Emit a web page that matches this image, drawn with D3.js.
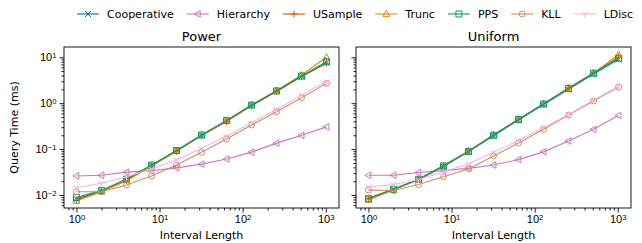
<!DOCTYPE html>
<html>
<head>
<meta charset="utf-8">
<script src="https://cdn.jsdelivr.net/npm/d3@7"></script>
<style>
  body { margin: 0; background: #fff; }
  svg { font-family: "DejaVu Sans", sans-serif; }
</style>
</head>
<body>
<div id="chart"></div>
<script>
// interval lengths (x), shared by both panels
var intervals = [1, 2, 4, 8, 16, 32, 64, 128, 256, 512, 1024];

var methods = ['Cooperative', 'Hierarchy', 'USample', 'Trunc', 'PPS', 'KLL', 'LDisc'];
var colors = ['#0173b2', '#cc78bc', '#d55e00', '#de8f05', '#029e73', '#ca9161', '#fbafe4'];
var markers = ['x', 'left', 'plus', 'up', 'square', 'circle', 'tridown'];

// Power workload, query time (ms)
var powerCooperative = [0.0082, 0.0122, 0.021, 0.044, 0.092, 0.2, 0.41, 0.9, 1.82, 3.8, 7.6];
var powerHierarchy   = [0.026, 0.027, 0.0315, 0.034, 0.039, 0.047, 0.061, 0.086, 0.135, 0.2, 0.305];
var powerUSample     = [0.0078, 0.012, 0.0205, 0.043, 0.09, 0.195, 0.4, 0.88, 1.8, 3.8, 7.4];
var powerTrunc       = [0.0074, 0.0118, 0.021, 0.044, 0.092, 0.2, 0.41, 0.92, 1.9, 4.1, 10.0];
var powerPPS         = [0.0088, 0.0126, 0.0223, 0.045, 0.093, 0.203, 0.42, 0.91, 1.85, 3.9, 8.0];
var powerKLL         = [0.0118, 0.0118, 0.0165, 0.026, 0.045, 0.085, 0.166, 0.335, 0.65, 1.32, 2.7];
var powerLDisc       = [0.0144, 0.018, 0.025, 0.037, 0.058, 0.104, 0.19, 0.375, 0.74, 1.5, 3.0];

// Uniform workload, query time (ms)
var uniformCooperative = [0.0085, 0.013, 0.0215, 0.042, 0.088, 0.195, 0.43, 0.94, 2.0, 4.3, 9.0];
var uniformHierarchy   = [0.027, 0.027, 0.031, 0.034, 0.038, 0.045, 0.059, 0.087, 0.15, 0.27, 0.54];
var uniformUSample     = [0.0085, 0.0135, 0.022, 0.044, 0.091, 0.205, 0.45, 0.98, 2.15, 4.6, 10.2];
var uniformTrunc       = [0.0078, 0.0128, 0.022, 0.043, 0.09, 0.2, 0.44, 0.97, 2.1, 4.5, 11.5];
var uniformPPS         = [0.0083, 0.0133, 0.022, 0.043, 0.089, 0.2, 0.44, 0.96, 2.1, 4.5, 9.5];
var uniformKLL         = [0.0128, 0.0125, 0.017, 0.025, 0.037, 0.071, 0.136, 0.27, 0.55, 1.12, 2.25];
var uniformLDisc       = [0.015, 0.017, 0.0215, 0.032, 0.048, 0.085, 0.155, 0.29, 0.57, 1.17, 2.3];

var xMajorTicks = [1, 10, 100, 1000];
var yMajorTicks = [0.01, 0.1, 1, 10];

var panels = [
  { title: 'Power', left: 64, showY: true,
    series: [powerCooperative, powerHierarchy, powerUSample, powerTrunc, powerPPS, powerKLL, powerLDisc] },
  { title: 'Uniform', left: 356, showY: false,
    series: [uniformCooperative, uniformHierarchy, uniformUSample, uniformTrunc, uniformPPS, uniformKLL, uniformLDisc] }
];

var width = 642, height = 243;
var panelWidth = 275, plotTop = 47, plotBottom = 208;

var svg = d3.select('#chart').append('svg')
    .attr('width', width)
    .attr('height', height);

var y = d3.scaleLog()
    .domain([Math.pow(10, -2.283), Math.pow(10, 1.224)])
    .range([plotBottom, plotTop]);

// minor ticks for log axes
function minorTicks(lo, hi) {
  var out = [];
  for (var e = lo; e <= hi; e++) {
    for (var m = 2; m <= 9; m++) out.push(m * Math.pow(10, e));
  }
  return out;
}

function markerPath(type, r) {
  var p = d3.path();
  if (type === 'circle') {
    p.moveTo(r, 0);
    p.arc(0, 0, r, 0, 2 * Math.PI);
  } else if (type === 'square') {
    p.rect(-r, -r, 2 * r, 2 * r);
  } else if (type === 'x') {
    p.moveTo(-r, -r); p.lineTo(r, r);
    p.moveTo(-r, r); p.lineTo(r, -r);
  } else if (type === 'plus') {
    p.moveTo(-r * 1.2, 0); p.lineTo(r * 1.2, 0);
    p.moveTo(0, -r * 1.2); p.lineTo(0, r * 1.2);
  } else if (type === 'up') {
    p.moveTo(0, -r * 1.2); p.lineTo(r * 1.1, r * 0.8); p.lineTo(-r * 1.1, r * 0.8); p.closePath();
  } else if (type === 'left') {
    p.moveTo(-r * 1.2, 0); p.lineTo(r * 0.8, -r * 1.1); p.lineTo(r * 0.8, r * 1.1); p.closePath();
  } else if (type === 'tridown') {
    p.moveTo(0, 0); p.lineTo(0, r * 1.2);
    p.moveTo(0, 0); p.lineTo(-r * 1.05, -r * 0.6);
    p.moveTo(0, 0); p.lineTo(r * 1.05, -r * 0.6);
  }
  return p.toString();
}

// superscript labels like 10^-2
function powLabel(sel, v) {
  var e = Math.round(Math.log10(v));
  sel.text(null);
  sel.append('tspan').text('10');
  sel.append('tspan').attr('dy', '-0.45em').style('font-size', '7.7px').text(e < 0 ? '\u2212' + (-e) : e);
}

panels.forEach(function (panel) {
  var x = d3.scaleLog()
      .domain([Math.pow(10, -0.15), Math.pow(10, 3.16)])
      .range([panel.left, panel.left + panelWidth]);

  var g = svg.append('g');

  // x axis major + minor
  var xAxis = g.append('g')
      .attr('transform', 'translate(0,' + plotBottom + ')')
      .call(d3.axisBottom(x).tickValues(xMajorTicks).tickSize(4.5).tickPadding(3));
  xAxis.select('.domain').remove();
  xAxis.selectAll('.tick text').style('font-size', '11px').style('fill', '#000')
      .each(function (d) { powLabel(d3.select(this), d); });
  var xMinor = g.append('g')
      .attr('transform', 'translate(0,' + plotBottom + ')')
      .call(d3.axisBottom(x).tickValues(minorTicks(-1, 3).filter(function (v) {
        return v >= x.domain()[0] && v <= x.domain()[1];
      })).tickSize(2.5).tickFormat(''));
  xMinor.select('.domain').remove();

  // y axis major + minor
  var yAxis = g.append('g')
      .attr('transform', 'translate(' + panel.left + ',0)')
      .call(d3.axisLeft(y).tickValues(yMajorTicks).tickSize(4.5).tickPadding(3));
  yAxis.select('.domain').remove();
  if (panel.showY) {
    yAxis.selectAll('.tick text').style('font-size', '11px').style('fill', '#000')
        .each(function (d) { powLabel(d3.select(this), d); });
  } else {
    yAxis.selectAll('.tick text').remove();
  }
  var yMinor = g.append('g')
      .attr('transform', 'translate(' + panel.left + ',0)')
      .call(d3.axisLeft(y).tickValues(minorTicks(-3, 1).filter(function (v) {
        return v >= y.domain()[0] && v <= y.domain()[1];
      })).tickSize(2.5).tickFormat(''));
  yMinor.select('.domain').remove();

  g.selectAll('.tick line').style('stroke', '#000').style('stroke-width', 0.9);

  // lines and markers
  var marks = g.append('g');
  panel.series.forEach(function (vals, i) {
    var pts = vals.map(function (v, j) { return [x(intervals[j]), y(v)]; });
    marks.append('path')
        .attr('d', d3.line()(pts))
        .style('fill', 'none')
        .style('stroke', colors[i])
        .style('stroke-width', 1.1);
    marks.selectAll('.m' + i)
        .data(pts)
        .enter().append('path')
        .attr('class', 'm' + i)
        .attr('transform', function (d) { return 'translate(' + d[0] + ',' + d[1] + ')'; })
        .attr('d', markerPath(markers[i], 3))
        .style('fill', 'none')
        .style('stroke', colors[i])
        .style('stroke-width', 1);
  });

  // frame
  g.append('rect')
      .attr('x', panel.left).attr('y', plotTop)
      .attr('width', panelWidth).attr('height', plotBottom - plotTop)
      .style('fill', 'none').style('stroke', '#000').style('stroke-width', 0.9);

  g.append('text')
      .attr('x', panel.left + panelWidth / 2).attr('y', 41)
      .attr('text-anchor', 'middle')
      .style('font-size', '13px')
      .text(panel.title);

  g.append('text')
      .attr('x', panel.left + panelWidth / 2).attr('y', 239)
      .attr('text-anchor', 'middle')
      .style('font-size', '11px')
      .text('Interval Length');
});

svg.append('text')
    .attr('transform', 'translate(18,' + ((plotTop + plotBottom) / 2) + ') rotate(-90)')
    .attr('text-anchor', 'middle')
    .style('font-size', '11px')
    .text('Query Time (ms)');

// legend across the top
var legend = svg.append('g').attr('transform', 'translate(77,14)');
var lx = 0;
methods.forEach(function (name, i) {
  var item = legend.append('g').attr('transform', 'translate(' + lx + ',0)');
  item.append('line')
      .attr('x1', 0).attr('x2', 22)
      .style('stroke', colors[i]).style('stroke-width', 1.1);
  item.append('path')
      .attr('transform', 'translate(11,0)')
      .attr('d', markerPath(markers[i], 3))
      .style('fill', 'none').style('stroke', colors[i]).style('stroke-width', 1);
  var t = item.append('text')
      .attr('x', 30).attr('dy', '0.35em')
      .style('font-size', '11px')
      .text(name);
  lx += 30 + t.node().getComputedTextLength() + 13;
});
</script>
</body>
</html>
